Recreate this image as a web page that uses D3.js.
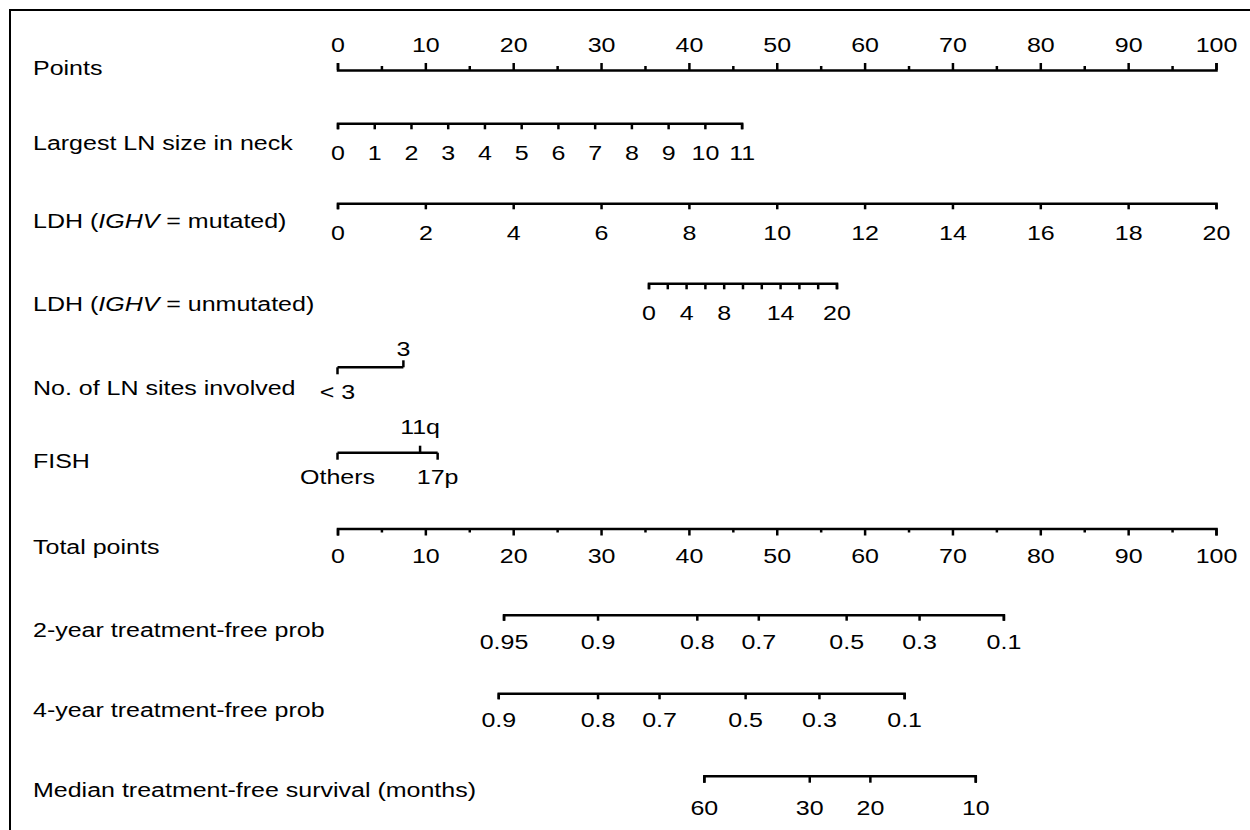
<!DOCTYPE html>
<html>
<head>
<meta charset="utf-8">
<script src="https://cdn.jsdelivr.net/npm/d3@7"></script>
<style>
  body { margin: 0; background: #fff; }
  text { font-family: "Liberation Sans", Arial, Helvetica, sans-serif; font-size: 20px; fill: #000; }
</style>
</head>
<body>
<svg id="chart" width="1250" height="830"></svg>
<script>
// nomogram values
const pointsTicks = [0, 5, 10, 15, 20, 25, 30, 35, 40, 45, 50, 55, 60, 65, 70, 75, 80, 85, 90, 95, 100];
const lnSizeTicks = [0, 1, 2, 3, 4, 5, 6, 7, 8, 9, 10, 11];
const lnSizePoints = [0, 46];
const ldhMutTicks = [0, 2, 4, 6, 8, 10, 12, 14, 16, 18, 20];
const ldhMutPoints = [0, 100];
const ldhUnmutTicks = [0, 2, 4, 6, 8, 10, 12, 14, 16, 18, 20];
const ldhUnmutLabels = [0, 4, 8, 14, 20];
const ldhUnmutPoints = [35.4, 56.8];
const lnSites = ["< 3", "3"];
const lnSitesPoints = [0, 7.5];
const fishCats = ["Others", "11q", "17p"];
const fishPoints = [0, 9.4, 11.4];
const totalTicks = [0, 5, 10, 15, 20, 25, 30, 35, 40, 45, 50, 55, 60, 65, 70, 75, 80, 85, 90, 95, 100];
const prob2yr = [0.95, 0.9, 0.8, 0.7, 0.5, 0.3, 0.1];
const prob2yrPoints = [18.9, 29.6, 40.9, 47.9, 57.9, 66.2, 75.8];
const prob4yr = [0.9, 0.8, 0.7, 0.5, 0.3, 0.1];
const prob4yrPoints = [18.3, 29.6, 36.6, 46.4, 54.8, 64.5];
const medianMonths = [60, 30, 20, 10];
const medianPoints = [41.7, 53.7, 60.6, 72.6];

const stretch = "scale(1.25,1)";
const svg = d3.select("#chart");
const x = d3.scaleLinear().domain([0, 100]).range([337.5, 1216]);

// frame (top and left edges only)
svg.append("path").attr("d", "M10,1250 V10 H1250").attr("fill", "none")
  .attr("stroke", "#000").attr("stroke-width", 2);

const rowLabel = (y, txt, italicPart, rest) => {
  const t = svg.append("text").attr("transform", `translate(33,${y}) ${stretch}`);
  t.append("tspan").text(txt);
  if (italicPart) {
    t.append("tspan").style("font-style", "italic").text(italicPart);
    t.append("tspan").text(rest);
  }
};

const drawAxis = (y, scale, ticks, labels, o) => {
  const g = svg.append("g").attr("transform", `translate(0,${y})`);
  const ax = (o.up ? d3.axisTop : d3.axisBottom)(scale)
    .tickValues(ticks).tickSizeOuter(0).tickSize(o.tick)
    .tickFormat(d => labels.includes(d) ? d : "");
  g.call(ax);
  g.attr("font-size", null).attr("font-family", null);
  g.select(".domain").attr("stroke-width", 2.5);
  g.selectAll(".tick line").attr("stroke-width", 2.5);
  if (o.minor) {
    g.selectAll(".tick line").attr("y2", d => (d % 10 ? o.minor : o.tick) * (o.up ? -1 : 1));
  }
  g.selectAll(".tick text").attr("y", o.labelY).attr("dy", null)
    .attr("transform", stretch).attr("fill", "#000");
};

const drawCats = (y, pts, cats, dirs, labelY) => {
  const g = svg.append("g").attr("transform", `translate(0,${y})`);
  g.append("line").attr("x1", x(d3.min(pts))).attr("x2", x(d3.max(pts)))
    .attr("stroke", "#000").attr("stroke-width", 2.5);
  cats.forEach((c, i) => {
    g.append("line").attr("x1", x(pts[i])).attr("x2", x(pts[i]))
      .attr("y1", 0).attr("y2", dirs[i] * 7)
      .attr("stroke", "#000").attr("stroke-width", 2.5);
    g.append("text").attr("text-anchor", "middle")
      .attr("transform", `translate(${x(pts[i])},${dirs[i] < 0 ? labelY[0] : labelY[1]}) ${stretch}`)
      .text(c);
  });
};

// Points
rowLabel(75, "Points");
drawAxis(70, x, pointsTicks, pointsTicks.filter(d => d % 10 === 0), { up: true, tick: 7, minor: 4, labelY: -18.5 });

// Largest LN size in neck
rowLabel(150, "Largest LN size in neck");
drawAxis(123.3, d3.scaleLinear().domain([0, 11]).range(lnSizePoints.map(x)), lnSizeTicks, lnSizeTicks, { tick: 6, labelY: 37 });

// LDH mutated
rowLabel(228, "LDH (", "IGHV", " = mutated)");
drawAxis(203.3, d3.scaleLinear().domain([0, 20]).range(ldhMutPoints.map(x)), ldhMutTicks, ldhMutTicks, { tick: 6, labelY: 36.5 });

// LDH unmutated
rowLabel(311, "LDH (", "IGHV", " = unmutated)");
drawAxis(283.3, d3.scaleLinear().domain([0, 20]).range(ldhUnmutPoints.map(x)), ldhUnmutTicks, ldhUnmutLabels, { tick: 6, labelY: 36.5 });

// No. of LN sites
rowLabel(395, "No. of LN sites involved");
drawCats(367.3, lnSitesPoints, lnSites, [1, -1], [-11, 32]);

// FISH
rowLabel(468, "FISH");
drawCats(452.7, fishPoints, fishCats, [1, -1, 1], [-19, 31]);

// Total points
rowLabel(554, "Total points");
drawAxis(528.5, x, totalTicks, totalTicks.filter(d => d % 10 === 0), { tick: 7, minor: 4, labelY: 34.5 });

// 2-year
rowLabel(637, "2-year treatment-free prob");
drawAxis(614.7, d3.scaleLinear().domain(prob2yr).range(prob2yrPoints.map(x)), prob2yr, prob2yr, { tick: 6, labelY: 34 });

// 4-year
rowLabel(717, "4-year treatment-free prob");
drawAxis(693.3, d3.scaleLinear().domain(prob4yr).range(prob4yrPoints.map(x)), prob4yr, prob4yr, { tick: 6, labelY: 33.5 });

// Median
rowLabel(797, "Median treatment-free survival (months)");
drawAxis(775.7, d3.scaleLinear().domain(medianMonths).range(medianPoints.map(x)), medianMonths, medianMonths, { tick: 7, labelY: 39 });
</script>
</body>
</html>
